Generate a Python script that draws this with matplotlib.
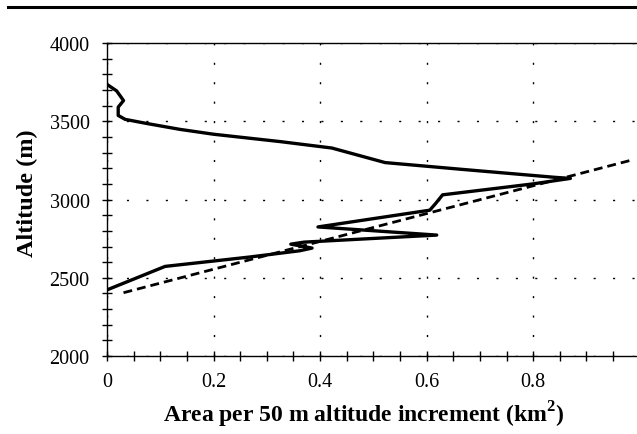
import matplotlib

matplotlib.use("Agg")
import matplotlib.pyplot as plt
from matplotlib.lines import Line2D
from matplotlib.ticker import MultipleLocator

plt.rcParams["font.family"] = ["Liberation Serif", "DejaVu Serif"]
plt.rcParams["mathtext.fontset"] = "custom"
plt.rcParams["mathtext.rm"] = "Liberation Serif"
plt.rcParams["mathtext.bf"] = "Liberation Serif:bold"

# hypsometric profile: area per 50 m band against altitude
area = [0.000, 0.018, 0.031, 0.021, 0.021, 0.034, 0.074, 0.137, 0.200, 0.325,
        0.422, 0.522, 0.662, 0.840, 0.870, 0.800, 0.630, 0.617, 0.606, 0.396,
        0.619, 0.370, 0.345, 0.385, 0.362, 0.268, 0.109, 0.000]
altitude = [3735, 3694, 3632, 3590, 3537, 3512, 3486, 3448, 3417, 3370,
            3329, 3236, 3194, 3142, 3135, 3100, 3030, 2975, 2932, 2825,
            2773, 2728, 2715, 2690, 2673, 2633, 2573, 2423]

# linear fit through the lower part of the profile
fit_area = [0.031, 0.985]
fit_altitude = [2405, 3252]

fig = plt.figure(figsize=(6.37, 4.35), dpi=100)
ax = fig.add_axes([0.168, 0.179, 0.832, 0.720])

ax.plot(area, altitude, color="black", linewidth=2.4, solid_joinstyle="round")
ax.plot(fit_area, fit_altitude, color="black", linewidth=2.0, dashes=(3.2, 1.8))

ax.set_xlim(0, 0.995)
ax.set_ylim(2000, 4000)
ax.xaxis.set_major_locator(MultipleLocator(0.2))
ax.xaxis.set_minor_locator(MultipleLocator(0.05))
ax.yaxis.set_major_locator(MultipleLocator(500))
ax.yaxis.set_minor_locator(MultipleLocator(100))
ax.set_xticks([0, 0.2, 0.4, 0.6, 0.8])
ax.set_xticklabels(["0", "0.2", "0.4", "0.6", "0.8"])

ax.tick_params(which="both", direction="inout", length=7, width=1, color="black")
ax.tick_params(axis="x", which="major", pad=8, labelsize=14.5)
ax.tick_params(axis="y", which="major", pad=9, labelsize=14.5)

ax.grid(True, which="major", color="black", linewidth=1, linestyle=(0, (1.5, 12.5)))

ax.spines["right"].set_visible(False)
for side in ("left", "bottom", "top"):
    ax.spines[side].set_linewidth(1.0)

ax.set_xlabel(r"Area per 50 m altitude increment (km$^{\mathbf{2}}$)",
              fontsize=17, fontweight="bold")
ax.set_ylabel("Altitude (m)", fontsize=17.5, fontweight="bold")
ax.xaxis.set_label_coords(0.485, -0.135)
ax.yaxis.set_label_coords(-0.13, 0.525)

# rule across the top of the page
fig.add_artist(Line2D([0.013, 1.0], [0.981, 0.981], color="black", linewidth=2.2))

fig.savefig("out.png", dpi=100)
